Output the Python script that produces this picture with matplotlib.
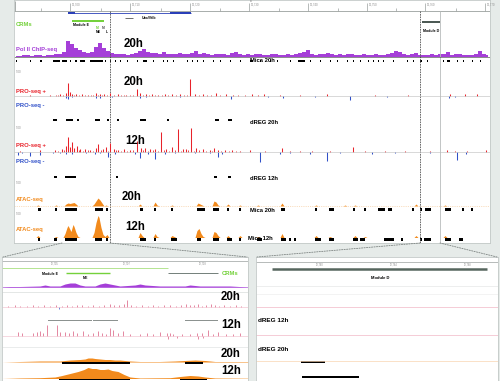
import numpy as np
import matplotlib.pyplot as plt
from matplotlib.patches import ConnectionPatch

plt.rcParams['font.family'] = ['Liberation Sans', 'DejaVu Sans']

W, H = 500, 381
BG = '#e6ebe9'
PURPLE = '#a53fd8'
RED = '#e8232b'
BLUE = '#3050c8'
ORANGE = '#f28a1c'
GREEN = '#74d13b'
PINK = '#d9577c'
GREY = '#8c9290'

# ---------------- main browser window (positions in browser units) ----------------
ruler_ticks = [70, 130, 190, 249, 308, 367, 425, 485]
ruler_labels = ['12,700', '12,710', '12,720', '12,730', '12,740', '12,750', '12,760', '12,770']

gene_span = (68, 191)
gene_exons = [(68, 75), (170, 191)]
module_e = (72, 104)
module_d = (422, 440)
guides_dashed = [110, 420]
guides_solid = [440]

# Pol II ChIP-seq 20h, 4-unit bins starting at 14
polii_20h = [1, 1, 2, 2, 1, 2, 2, 1, 2, 2, 3, 3, 5, 16, 13, 9, 7, 5, 4, 5,
             10, 14, 9, 6, 4, 3, 3, 3, 2, 3, 4, 6, 8, 5, 4, 4, 3, 5, 3, 3,
             3, 4, 3, 3, 4, 6, 3, 4, 3, 2, 3, 3, 3, 2, 4, 5, 3, 2, 3, 2,
             3, 3, 2, 2, 3, 3, 2, 2, 3, 2, 3, 4, 5, 7, 3, 2, 3, 3, 4, 3,
             2, 3, 2, 3, 3, 2, 2, 3, 2, 2, 3, 2, 2, 3, 4, 6, 5, 3, 2, 3,
             4, 2, 2, 2, 3, 2, 3, 3, 5, 2, 3, 3, 2, 2, 2, 3, 6, 3, 2]
polii_peaks = [(16, 17), (30, 31), (40, 42), (53, 60), (62, 67), (70, 71), (75, 77), (80, 85),
               (90, 103), (105, 106), (110, 111), (115, 116), (120, 121), (127, 128), (137, 138),
               (143, 147), (153, 154), (163, 164), (167, 168), (173, 174), (187, 188), (192, 193),
               (197, 198), (203, 204), (213, 214), (220, 221), (230, 231), (240, 241), (250, 253),
               (260, 261), (270, 271), (277, 278), (290, 291), (298, 305), (310, 311), (320, 321),
               (330, 331), (337, 338), (347, 348), (353, 354), (360, 361), (368, 369), (373, 374),
               (378, 379), (383, 384), (393, 394), (407, 408), (413, 414), (420, 422), (427, 428),
               (443, 444), (447, 450), (457, 458), (463, 464), (472, 473), (480, 481)]

pro20_plus_pos = [30, 50, 60, 66, 68, 70, 72, 76, 82, 88, 96, 100, 104, 110, 118, 126, 137, 140,
                  146, 152, 158, 165, 172, 180, 190, 195, 203, 216, 226, 233, 252, 258, 264, 280,
                  300, 327, 375, 408, 450, 465, 477]
pro20_plus_val = [1, 1, 2, 3, 13, 4, 2, 2, 2, 1, 3, 2, 2, 3, 2, 1, 7, 3,
                  2, 2, 1, 2, 2, 2, 17, 2, 2, 3, 2, 1, 2, 1, 2, 1,
                  1, 2, 1, 1, 2, 2, 2]
pro20_low_pos = [56, 58, 63, 74, 79, 85, 91, 93, 98, 102, 107, 114, 121, 124, 130, 133, 143, 149,
                 155, 162, 168, 176, 184, 187, 199, 207, 211, 220, 238, 245]
pro20_low_val = [1, 1, 1, 1.5, 1, 1, 1, 1.5, 1, 1, 1.5, 1, 1, 1, 1.5, 1, 1, 1,
                 1.5, 1, 1, 1, 1.5, 1, 1, 1, 1.5, 1, 1, 1]
pro20_minus_pos = [66, 68, 72, 96, 100, 112, 140, 146, 180, 231, 268, 283, 315, 350, 387, 449, 455]
pro20_minus_val = [-2, -3, -1, -2, -2, -1, -2, -1, -1, -3, -1, -2, -1, -4, -1, -2, -1]
dreg_20h = [(53, 57), (66, 73), (77, 79), (95, 100), (107, 109), (117, 119), (140, 146),
            (167, 169), (215, 219), (228, 232)]

pro12_plus_pos = [20, 40, 55, 62, 66, 68, 70, 72, 74, 77, 80, 85, 90, 96, 98, 103, 106, 110, 114,
                  118, 124, 130, 137, 141, 145, 150, 155, 161, 166, 172, 178, 183, 186, 191, 196,
                  203, 210, 214, 218, 225, 232, 240, 250, 265, 282, 290, 300, 312, 330, 353, 365,
                  385, 405, 430, 447, 455, 467, 486]
pro12_plus_val = [1, 2, 2, 3, 6, 15, 5, 10, 4, 6, 3, 3, 2, 4, 8, 3, 5, 9, 3,
                  2, 3, 2, 11, 4, 4, 3, 3, 20, 3, 5, 23, 3, 3, 24, 4,
                  3, 2, 4, 2, 2, 2, 1, 2, 1, 4, 1, 1, 1, 1, 5, 1,
                  1, 1, 1, 2, 1, 1, 2]
pro12_low_pos = [58, 64, 79, 83, 88, 93, 101, 108, 116, 121, 127, 133, 143, 148, 153, 158, 164,
                 169, 175, 181, 188, 194, 199, 206, 212, 221, 229, 236]
pro12_low_val = [1.5, 2, 2, 1.5, 2, 1.5, 2, 1.5, 2, 1.5, 1.5, 2, 2, 1.5, 2, 1.5, 2,
                 1.5, 2, 1.5, 2, 1.5, 2, 1.5, 1, 1.5, 1, 1]
pro12_minus_pos = [18, 22, 30, 40, 53, 60, 66, 72, 86, 95, 100, 108, 115, 135, 140, 148, 155, 165,
                   175, 195, 210, 218, 222, 260, 280, 290, 310, 327, 340, 372, 395, 430, 457, 466]
pro12_minus_val = [-3, -1, -4, -3, -1, -1, -2, -2, -1, -2, -1, -5, -2, -2, -6, -2, -7, -2,
                   -1, -1, -1, -5, -2, -10, -2, -1, -2, -9, -1, -2, -1, -1, -8, -2]
dreg_12h = [(54, 57), (65, 76), (116, 118), (214, 217), (228, 231)]

atac20_x = [14, 36, 38, 40, 54, 56, 58, 64, 66, 68, 70, 72, 74, 76, 78, 92, 94, 96, 98, 100,
            102, 104, 106, 108, 138, 140, 142, 153, 155, 157, 159, 170, 172, 174, 196, 198, 200,
            202, 204, 212, 214, 216, 218, 220, 226, 228, 230, 238, 240, 242, 256, 258, 260, 280,
            282, 284, 314, 316, 318, 343, 345, 347, 353, 355, 357, 414, 416, 418, 443, 445, 447, 490]
atac20_y = [0, 0, 1, 0, 0, 1, 0, 0, 2, 3, 2.5, 3, 3.5, 2, 0, 0, 2, 5, 8, 6,
            3, 0, 1, 0, 0, 2, 0, 0, 4, 1, 0, 0, 1, 0, 0, 3, 2,
            1, 0, 0, 5, 4, 1, 0, 0, 2, 0, 0, 1, 0, 0, 1, 0, 0,
            3, 0, 0, 1, 0, 0, 1, 0, 0, 1, 0, 0, 2, 0, 0, 1, 0, 0]
mica_20h = [(38, 41), (55, 57), (65, 77), (95, 103), (106, 108), (140, 143), (154, 156), (171, 173),
            (197, 205), (213, 219), (227, 229), (239, 241), (281, 285), (315, 317), (329, 334),
            (353, 355), (364, 366), (378, 385), (388, 392), (412, 414), (420, 422), (425, 431),
            (445, 451), (462, 464), (471, 473)]

atac12_x = [14, 36, 38, 40, 54, 56, 58, 63, 65, 67, 68, 70, 71, 73, 74, 76, 78, 80, 92, 94, 96,
            98, 99, 101, 103, 105, 107, 109, 138, 140, 142, 144, 153, 155, 157, 159, 170, 172, 174,
            176, 195, 197, 199, 201, 203, 205, 212, 214, 216, 218, 220, 226, 228, 230, 238, 240,
            242, 256, 258, 260, 280, 282, 284, 314, 316, 318, 328, 330, 332, 353, 355, 357, 363,
            365, 367, 414, 416, 418, 443, 445, 447, 490]
atac12_y = [0, 0, 2, 0, 0, 1, 0, 0, 4, 10, 12, 8, 6, 13, 11, 5, 1, 0, 0, 5, 15,
            22, 20, 10, 3, 1, 3, 0, 0, 5, 2, 0, 0, 4, 1, 0, 0, 2, 1,
            0, 0, 7, 9, 4, 1, 0, 0, 6, 5, 2, 0, 0, 2, 0, 0, 2,
            0, 0, 1, 0, 0, 4, 0, 0, 2, 0, 0, 1, 0, 0, 2, 0, 0,
            1, 0, 0, 2, 0, 0, 2, 0, 0]
mica_12h = [(38, 40), (54, 57), (65, 77), (95, 102), (106, 108), (140, 146), (154, 156), (171, 177),
            (197, 201), (213, 219), (227, 232), (239, 241), (257, 262), (281, 286), (289, 291),
            (294, 296), (315, 321), (329, 334), (353, 358), (360, 365), (384, 394), (401, 403),
            (420, 422), (424, 431), (445, 451), (459, 463)]

# ---------------- zoom on module E (left inset) ----------------
zoom_e = (62, 110)
crm_e_light = (2, 168)
crm_e_dark = (168, 218)
crm_e_bar = (66, 110)
polii_e_x = [2, 10, 20, 40, 45, 50, 60, 65, 70, 75, 80, 85, 95, 100, 105, 110, 115, 120, 135,
             140, 145, 160, 185, 190, 200, 215, 230, 248]
polii_e_y = [0, 0.5, 0.5, 1, 2, 1, 1, 3, 4, 4, 2, 1, 1, 3, 4, 3, 2, 1, 2,
             3, 2, 1, 1, 2, 1, 1, 1, 0]
pro20_e_pos = [8, 15, 20, 27, 33, 38, 44, 50, 56, 62, 67, 72, 77, 82, 88, 93, 99, 104, 110, 114,
               119, 124, 127, 131, 136, 142, 148, 153, 158, 164, 170, 176, 181, 186, 190, 194,
               198, 202, 206, 211, 215, 219, 224, 230, 236, 241]
pro20_e_val = [1, 2, 1, 1, 2, 1, 2, 1, 2, 1, 2, 1, 2, 2, 1, 2, 1, 2, 3, 2,
               2, 3, 7, 2, 1, 2, 1, 2, 1, 2, 2, 1, 2, 3, 2, 2,
               3, 1, 2, 3, 2, 1, 2, 1, 2, 1]
pro20_e_minus_pos = [59]
pro20_e_minus_val = [-2]
dreg_e = [(48, 92), (93, 118), (185, 218)]
pro12_e_pos = [18, 22, 33, 37, 40, 43, 47, 57, 60, 65, 69, 73, 77, 83, 88, 93, 98, 102, 106, 110,
               113, 118, 123, 130, 140, 147, 153, 160, 167, 170, 173, 182, 190, 197, 202, 208,
               213, 218, 226, 233, 240]
pro12_e_val = [4, 3, 3, 4, 5, 3, 11, 11, 4, 4, 3, 5, 3, 5, 2, 3, 5, 3, 2, 8,
               6, 3, 5, 2, 2, 3, 2, 4, 3, 3, 2, 2, 2, 3, 3, 6,
               2, 4, 2, 2, 3]
pro12_e_minus_pos = [168, 177, 198, 203]
pro12_e_minus_val = [-3, -2, -3, -2]
atac20_e_x = [2, 20, 40, 60, 70, 80, 85, 88, 92, 95, 100, 105, 110, 115, 120, 125, 130, 140,
              160, 175, 185, 195, 205, 215, 248]
atac20_e_y = [0, 0.5, 1, 1, 2, 2.5, 3, 4, 4, 3.5, 3, 2.5, 2.5, 2, 2, 1.5, 1, 0.5,
              0.5, 1, 1.5, 2, 1.5, 0.5, 0.5]
mica20_e = [(62, 130), (185, 203)]
atac12_e_x = [2, 20, 40, 55, 62, 70, 78, 84, 88, 92, 96, 100, 104, 108, 112, 118, 124, 130,
              140, 170, 180, 190, 198, 205, 215, 248]
atac12_e_y = [0, 0.5, 0.8, 1.5, 3, 5, 7, 9, 11, 10, 10, 9, 9, 9.5, 8, 7, 4, 1.5,
              0.5, 0.8, 2, 3, 2.5, 1.5, 0.5, 0.3]
mica12_e = [(59, 130), (180, 207)]

# ---------------- zoom on module D (right inset) ----------------
zoom_d = (420, 440)
crm_d_bar = (272, 487)
dreg20_d = [(301, 325)]
dreg12_d = [(302, 359)]

fig = plt.figure(figsize=(W / 100, H / 100), dpi=100)
fig.patch.set_facecolor(BG)


def panel(x0, y0, x1, y1):
    ax = fig.add_axes([x0 / W, 1 - y1 / H, (x1 - x0) / W, (y1 - y0) / H])
    ax.set_xlim(x0, x1)
    ax.set_ylim(y1, y0)
    ax.set_facecolor('white')
    ax.set_xticks([])
    ax.set_yticks([])
    for s in ax.spines.values():
        s.set_color('#c3c9c7')
        s.set_linewidth(0.6)
    return ax


def spikes(ax, pos, val, base, color, lw=0.75):
    ax.vlines(pos, base, base - np.asarray(val, dtype=float), color=color, lw=lw)


def area(ax, x, y, base, color):
    ax.fill_between(x, base, base - np.asarray(y, dtype=float), color=color, lw=0)


def marks(ax, spans, yc, color='black', th=2.0):
    ax.broken_barh([(a, b - a) for a, b in spans], (yc - th / 2, th), color=color, lw=0)


def label(ax, x, y, s, color='black', size=3.8, **kw):
    ax.text(x, y, s, color=color, fontsize=size, fontweight='bold', va='center', **kw)


# ---------------- main panel ----------------
main = panel(14, 0, 490, 243)
main.hlines(11, 14, 490, color='#9aa09e', lw=0.6)
for i, t in enumerate(ruler_ticks):
    main.vlines(t, 3, 11, color='#9aa09e', lw=0.5)
    main.vlines(t - 29.5, 8, 11, color='#9aa09e', lw=0.5)
    main.text(t + 2, 5, ruler_labels[i], fontsize=2, color='#888888', va='center')
main.vlines(14.5, 1, 11, color='#9aa09e', lw=0.6)
main.text(250, 1.5, 'kb', fontsize=2, color='#888888', va='center')
for g in guides_dashed:
    main.vlines(g, 11, 243, color='#555555', lw=0.6, linestyles=(0, (2, 1)))
for g in guides_solid:
    main.vlines(g, 11, 243, color='#b8bcbb', lw=0.6)

# gene model
main.hlines(13, *gene_span, color='#2a3fb8', lw=0.6)
marks(main, gene_exons, 13, color='#2a3fb8', th=2.6)
main.hlines(18, 125, 133, color='#333333', lw=0.5)
label(main, 142, 18, 'Ubx/Vtlb', size=2.6)

# CRMs
label(main, 16, 25, 'CRMs', color=GREEN, size=4.2)
marks(main, [module_e], 21, color=GREEN, th=1.6)
label(main, 73, 25.5, 'Module E', size=2.6)
marks(main, [module_d], 22, color='#4d5a55', th=1.6)
label(main, 423, 31, 'Module D', size=2.6)
label(main, 96, 28, 'M', color=GREEN, size=2.4)
label(main, 102, 28, 'M', color='#555555', size=2.4)
label(main, 96, 32, 'ME', size=2.4)
label(main, 106, 32, 'L', size=2.4)

# Pol II
polii_x = 14 + 4 * np.arange(len(polii_20h))
main.fill_between(polii_x + 2, 57, 57 - np.array(polii_20h, dtype=float), step='mid',
                  color=PURPLE, lw=0)
main.hlines(57, 14, 490, color='#333333', lw=0.4)
label(main, 16, 50, 'Pol II ChIP-seq', color=PURPLE, size=4.2)
marks(main, polii_peaks, 61, th=1.8)
label(main, 250, 61, 'Mica 20h', size=4.2)

big = dict(size=8.3)
label(main, 124, 44, '20h', **big)

# PRO-seq 20h
main.text(16, 72, '5.00', fontsize=2, color='#888888', va='center')
spikes(main, pro20_plus_pos, pro20_plus_val, 96, RED)
spikes(main, pro20_low_pos, pro20_low_val, 96, RED, lw=0.6)
spikes(main, pro20_minus_pos, pro20_minus_val, 96, BLUE)
main.hlines(96, 14, 490, color='#bbbbbb', lw=0.4)
label(main, 16, 91, 'PRO-seq +', color=RED, size=4.2)
label(main, 16, 106, 'PRO-seq -', color=BLUE, size=4.2)
label(main, 124, 82, '20h', **big)
marks(main, dreg_20h, 120, th=2.2)
label(main, 250, 123, 'dREG 20h', size=4.2)

# PRO-seq 12h
main.text(16, 128, '5.00', fontsize=2, color='#888888', va='center')
spikes(main, pro12_plus_pos, pro12_plus_val, 152, RED)
spikes(main, pro12_low_pos, pro12_low_val, 152, RED, lw=0.6)
spikes(main, pro12_minus_pos, pro12_minus_val, 152, BLUE)
main.hlines(152, 14, 490, color='#bbbbbb', lw=0.4)
label(main, 16, 145, 'PRO-seq +', color=RED, size=4.2)
label(main, 16, 162, 'PRO-seq -', color=BLUE, size=4.2)
label(main, 125, 141, '12h', **big)
marks(main, dreg_12h, 177, th=2.2)
label(main, 250, 179, 'dREG 12h', size=4.2)

# ATAC 20h
main.text(16, 183, '5.00', fontsize=2, color='#888888', va='center')
area(main, atac20_x, atac20_y, 206, ORANGE)
main.hlines(206, 14, 490, color='#f5c48f', lw=0.4, linestyles=(0, (2, 2)))
label(main, 16, 200, 'ATAC-seq', color=ORANGE, size=4.2)
label(main, 122, 197, '20h', **big)
marks(main, mica_20h, 209.5, th=2.2)
label(main, 250, 210, 'Mica 20h', size=4.2)

# ATAC 12h
main.text(16, 214, '5.00', fontsize=2, color='#888888', va='center')
area(main, atac12_x, atac12_y, 237.5, ORANGE)
label(main, 16, 230, 'ATAC-seq', color=ORANGE, size=4.2)
label(main, 125, 227, '12h', **big)
marks(main, mica_12h, 239.5, th=2.2)
label(main, 248, 238.5, 'Mica 12h', size=4.2)

# ---------------- left inset ----------------
left = panel(2, 257, 248, 381)
left.hlines(261, 2, 248, color='#9aa09e', lw=0.5)
for t in [55, 127, 203]:
    left.text(t, 263.5, '12,70' + str(t % 10), fontsize=1.8, color='#888888', ha='center', va='center')
left.hlines(268, *crm_e_light, color='#a8e080', lw=0.6)
left.hlines(273, *crm_e_dark, color='#5c6a64', lw=0.6)
left.hlines(273, *crm_e_bar, color=GREEN, lw=1.0)
label(left, 222, 273, 'CRMs', color=GREEN, size=4.2)
label(left, 42, 274, 'Module E', size=2.6)
label(left, 83, 278, 'ME', size=2.6)
area(left, polii_e_x, polii_e_y, 287, PURPLE)
left.hlines(287, 2, 248, color=PURPLE, lw=0.4)
left.hlines(291.5, 2, 248, color='#d9dddc', lw=0.5)
spikes(left, pro20_e_pos, pro20_e_val, 307, PINK, lw=0.5)
spikes(left, pro20_e_minus_pos, pro20_e_minus_val, 307, BLUE, lw=0.5)
left.hlines(307, 2, 248, color='#f0b9c8', lw=0.4)
label(left, 221, 297, '20h', **big)
marks(left, dreg_e, 320, color=GREY, th=1.0)
spikes(left, pro12_e_pos, pro12_e_val, 336, PINK, lw=0.5)
spikes(left, pro12_e_minus_pos, pro12_e_minus_val, 336, PINK, lw=0.5)
left.hlines(336, 2, 248, color='#f0b9c8', lw=0.4)
label(left, 221, 325, '12h', **big)
left.hlines(347, 2, 248, color='#e2e5e4', lw=0.5)
area(left, atac20_e_x, atac20_e_y, 362, ORANGE)
marks(left, mica20_e, 363, th=1.4)
label(left, 221, 354, '20h', **big)
area(left, atac12_e_x, atac12_e_y, 378.5, ORANGE)
marks(left, mica12_e, 379.5, th=1.4)
label(left, 221, 371, '12h', **big)

# ---------------- right inset ----------------
right = panel(256, 257, 498, 381)
right.hlines(262, 256, 498, color='#9aa09e', lw=0.5)
for t in [320, 394, 468]:
    right.text(t, 264.5, '12,76' + str(t % 10), fontsize=1.8, color='#888888', ha='center', va='center')
right.hlines(269, *crm_d_bar, color='#56665e', lw=1.8)
label(right, 380, 278, 'Module D', size=3.0, ha='center')
right.hlines(286, 256, 498, color='#e6e8e8', lw=0.5)
right.hlines(294, 256, 498, color='#eeeeee', lw=0.5)
right.hlines(307, 256, 498, color='#f2b8c6', lw=0.5)
right.hlines(335, 256, 498, color='#f2b8c6', lw=0.5)
right.hlines(361, 256, 498, color='#f8d4b0', lw=0.5)
label(right, 258, 320, 'dREG 12h', size=4.6)
label(right, 258, 349, 'dREG 20h', size=4.6)
marks(right, dreg20_d, 362, th=1.2)
marks(right, dreg12_d, 377, th=1.2)

# zoom connectors
for xa, ax_b, xb in [(zoom_e[0], left, 3), (zoom_e[1], left, 247),
                     (zoom_d[0], right, 257), (zoom_d[1], right, 497)]:
    con = ConnectionPatch(xyA=(xa, 243), coordsA=main.transData,
                          xyB=(xb, 257), coordsB=ax_b.transData,
                          color='#7d8482', lw=0.6, ls=(0, (1.5, 1.5)))
    fig.add_artist(con)

plt.savefig('out.png', dpi=100, facecolor=BG)
